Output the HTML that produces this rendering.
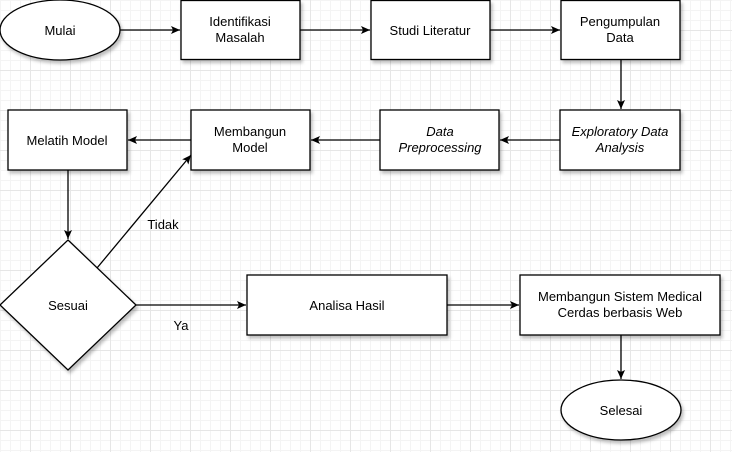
<!DOCTYPE html>
<html><head><style>
body{margin:0;width:732px;height:452px;overflow:hidden;background:#fff;
background-image:linear-gradient(#e6e6e6 1px,transparent 1px),linear-gradient(90deg,#e6e6e6 1px,transparent 1px),linear-gradient(#f4f4f4 1px,transparent 1px),linear-gradient(90deg,#f4f4f4 1px,transparent 1px);
background-size:40px 40px,40px 40px,10px 10px,10px 10px;background-position:30px 30px,30px 30px,0 0,0 0;}
svg{position:absolute;left:0;top:0}
text{font-family:"Liberation Sans",sans-serif;font-size:13px;fill:#000;text-anchor:middle}
</style></head><body>
<svg width="732" height="452">
<defs>
<filter id="s" x="-10%" y="-10%" width="130%" height="140%"><feDropShadow dx="2" dy="3" stdDeviation="1.5" flood-color="#000" flood-opacity="0.25"/></filter>
<marker id="a" markerWidth="10" markerHeight="10" refX="9" refY="5" orient="auto" markerUnits="userSpaceOnUse"><path d="M0,1 L9,5 L0,9 L2,5z" fill="#000"/></marker>
</defs>
<g fill="#fff" stroke="#000" stroke-width="1.3" filter="url(#s)">
<ellipse cx="60" cy="30" rx="60" ry="30"/>
<rect x="181" y="0.5" width="119" height="59"/>
<rect x="371" y="0.5" width="119" height="59"/>
<rect x="561" y="0.5" width="119" height="59"/>
<rect x="8" y="110" width="119" height="60"/>
<rect x="191" y="110" width="119" height="60"/>
<rect x="380" y="110" width="119" height="60"/>
<rect x="560" y="110" width="120" height="60"/>
<polygon points="68,240 136,305 68,370 0,305"/>
<rect x="247" y="275" width="200" height="60"/>
<rect x="520" y="275" width="200" height="60"/>
<ellipse cx="621" cy="410" rx="60" ry="30"/>
</g>
<g stroke="#000" stroke-width="1.3" fill="none" marker-end="url(#a)">
<line x1="120" y1="30" x2="180" y2="30"/>
<line x1="300" y1="30" x2="370" y2="30"/>
<line x1="490" y1="30" x2="560" y2="30"/>
<line x1="621" y1="60" x2="621" y2="109"/>
<line x1="560" y1="140" x2="500" y2="140"/>
<line x1="380" y1="140" x2="311" y2="140"/>
<line x1="191" y1="140" x2="128" y2="140"/>
<line x1="68" y1="170" x2="68" y2="239"/>
<line x1="97" y1="268" x2="191" y2="155"/>
<line x1="136" y1="305" x2="246" y2="305"/>
<line x1="447" y1="305" x2="519" y2="305"/>
<line x1="621" y1="335" x2="621" y2="379"/>
</g>
<text x="60" y="35">Mulai</text>
<text x="240" y="26">Identifikasi</text><text x="240" y="42">Masalah</text>
<text x="430" y="35">Studi Literatur</text>
<text x="620" y="26">Pengumpulan</text><text x="620" y="42">Data</text>
<text x="67" y="145">Melatih Model</text>
<text x="250" y="136">Membangun</text><text x="250" y="152">Model</text>
<text x="440" y="136" font-style="italic">Data</text><text x="440" y="152" font-style="italic">Preprocessing</text>
<text x="620" y="136" font-style="italic">Exploratory Data</text><text x="620" y="152" font-style="italic">Analysis</text>
<text x="68" y="310">Sesuai</text>
<text x="347" y="310">Analisa Hasil</text>
<text x="620" y="301">Membangun Sistem Medical</text><text x="620" y="317">Cerdas berbasis Web</text>
<text x="621" y="415">Selesai</text>
<text x="163" y="229">Tidak</text>
<text x="181" y="330">Ya</text>
</svg>
</body></html>
